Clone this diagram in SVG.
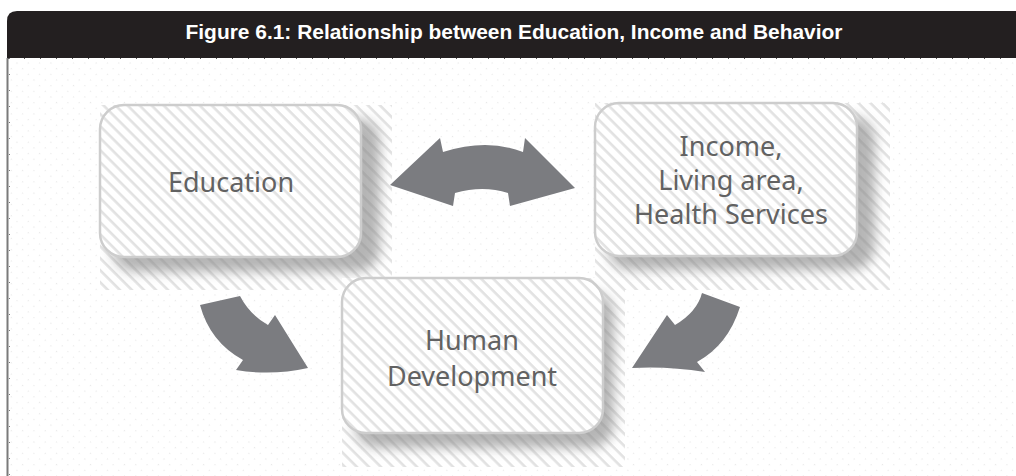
<svg xmlns="http://www.w3.org/2000/svg" width="1016" height="476" viewBox="0 0 1016 476">
  <defs>
    <!-- faint dotted paper texture -->
    <pattern id="dots" width="8" height="8" patternUnits="userSpaceOnUse" patternTransform="rotate(45)">
      <rect x="0" y="0" width="1.2" height="1.2" fill="#e8e8e8"/>
    </pattern>
    <!-- diagonal hatching behind the boxes -->
    <pattern id="hatch" width="8.5" height="8.5" patternUnits="userSpaceOnUse" patternTransform="rotate(45)">
      <rect x="0" y="0" width="8.5" height="8.5" fill="#ffffff"/>
      <rect x="0" y="0" width="8.5" height="2.6" fill="#e2e2e2"/>
    </pattern>
    <filter id="soft" x="-20%" y="-20%" width="140%" height="140%">
      <feGaussianBlur stdDeviation="6"/>
    </filter>
  </defs>
  <style>
    .box { fill: url(#hatch); stroke: #cdcdcd; stroke-width: 2.5; }
    .shadow { fill: #858585; opacity: 0.6; filter: url(#soft); }
    .label { font-family: "Noto Sans", "Open Sans", sans-serif; font-size: 27px; fill: #626262; text-anchor: middle; }
    .arrow { fill: #7b7c80; }
  </style>

  <!-- page -->
  <rect x="0" y="0" width="1016" height="476" fill="#ffffff"/>
  <rect x="8" y="58" width="1008" height="418" fill="url(#dots)"/>

  <!-- title band -->
  <g id="title">
    <path d="M7,58 L7,21 Q7,11 17,11 L1016,11 L1016,58 Z" fill="#231f20"/>
    <text x="514" y="39" font-family="Liberation Sans, Arial, sans-serif" font-weight="bold" font-size="21" fill="#ffffff" text-anchor="middle" textLength="657" lengthAdjust="spacingAndGlyphs">Figure 6.1: Relationship between Education, Income and Behavior</text>
  </g>

  <!-- frame rules -->
  <line x1="7.5" y1="58" x2="7.5" y2="476" stroke="#7a7a7a" stroke-width="2"/>
  <line x1="8" y1="58.5" x2="1016" y2="58.5" stroke="#555" stroke-width="1.2" stroke-dasharray="1 15"/>
  <line x1="9.5" y1="58" x2="9.5" y2="476" stroke="#777" stroke-width="1" stroke-dasharray="1 15"/>

  <g id="node-education">
    <rect x="100" y="105" width="292" height="185" fill="url(#hatch)"/>
    <rect class="shadow" x="112" y="118" width="268" height="154" rx="24"/>
    <rect class="box" x="100" y="105" width="261" height="152" rx="24"/>
    <text class="label" x="231" y="192">Education</text>
  </g>

  <g id="node-income">
    <rect x="595" y="103" width="295" height="187" fill="url(#hatch)"/>
    <rect class="shadow" x="607" y="116" width="268" height="154" rx="24"/>
    <rect class="box" x="595" y="103" width="262" height="153" rx="24"/>
    <text class="label" x="731" y="156">Income,</text>
    <text class="label" x="731" y="190">Living area,</text>
    <text class="label" x="731" y="224">Health Services</text>
  </g>

  <g id="node-human-development">
    <rect x="342" y="278" width="283" height="189" fill="url(#hatch)"/>
    <rect class="shadow" x="354" y="291" width="260" height="157" rx="24"/>
    <rect class="box" x="342" y="278" width="261" height="155" rx="24"/>
    <text class="label" x="472" y="350">Human</text>
    <text class="label" x="472" y="386">Development</text>
  </g>

  <g id="connectors">
    <!-- education <-> income -->
    <path class="arrow" d="M390,185 L440,138 L443,152 Q487,138 523,152 L525,138 L575,188 L510,206 L508,193 Q483,185 455,193 L453,206 Z"/>
    <!-- education -> human development -->
    <path class="arrow" d="M200,305 L240,296 Q250,315 268,325 L275,315 L308,368 Q272,376 236,370 L243,360 Q210,342 200,305 Z"/>
    <!-- income -> human development -->
    <path class="arrow" d="M702,293 L740,307 Q728,345 697,362 L705,372 Q668,366 632,368 L667,315 L675,325 Q697,312 702,293 Z"/>
  </g>
</svg>
